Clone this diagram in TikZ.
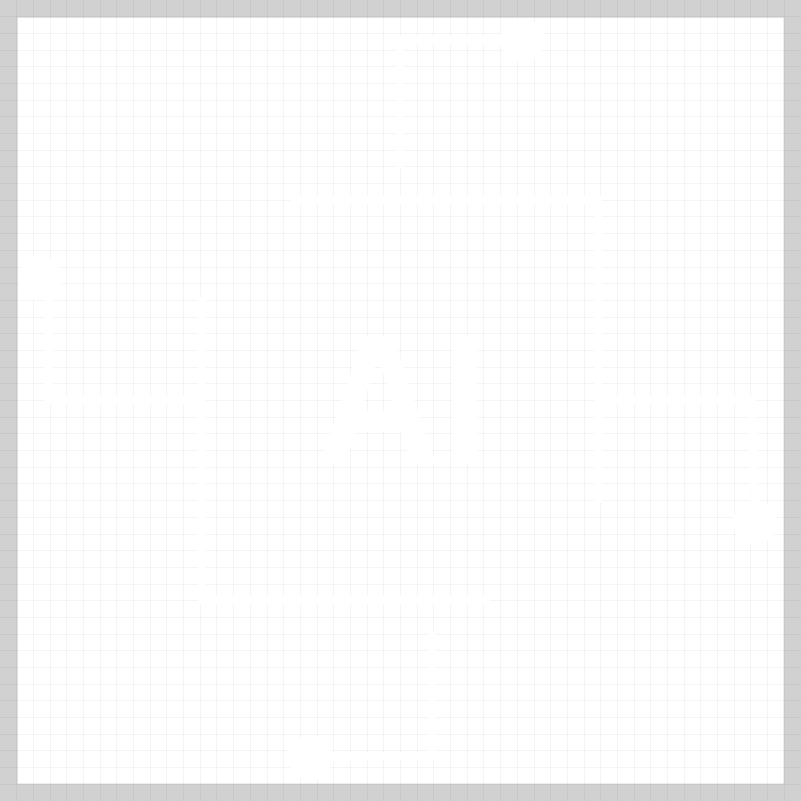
\documentclass[tikz,border=0pt]{standalone}
\usepackage{fontspec}
\setmainfont{Liberation Sans}
\definecolor{framegray}{HTML}{D1D1D1}
\tikzset{
  wire/.style={white, line width=8pt, line cap=butt, line join=miter},
  pad/.style={circle, fill=white, minimum size=44pt, inner sep=0pt},
  gridline/.style={black, opacity=0.04, line width=0.9pt}
}
\begin{document}
\begin{tikzpicture}[x=1pt, y=-1pt]
\useasboundingbox (0,0) rectangle (801,801);
\fill[white] (0,0) rectangle (801,801);
\fill[framegray, even odd rule] (0,0) rectangle (801,801) (17.5,17.5) rectangle (783.5,783.5);
\foreach \i in {1,...,47} {
  \draw[gridline] ({\i*16.6875},0) -- ({\i*16.6875},801);
  \draw[gridline] (0,{\i*16.6875}) -- (801,{\i*16.6875});
}
% chip body edges
\coordinate (tl) at (290,200);
\coordinate (tr) at (598,200);
\coordinate (rb) at (598,502);
\coordinate (lt) at (202,297);
\coordinate (bl) at (202,600);
\coordinate (br) at (490,600);
\draw[wire] (tl) -- (tr) -- (rb);
\draw[wire] (lt) -- (bl) -- (br);
% pads
\node[pad] (padT) at (522,40) {};
\node[pad] (padL) at (40,278) {};
\node[pad] (padR) at (755,522) {};
\node[pad] (padB) at (310,758) {};
% pins
\coordinate (pT1) at (400,40);
\coordinate (pT2) at (400,168);
\draw[wire] (padT.center) -- (pT1) -- (pT2);
\coordinate (pL0) at (49,290);
\coordinate (pL1) at (49,400);
\coordinate (pL2) at (200,400);
\draw[wire] (pL0) -- (pL1) -- (pL2);
\coordinate (pR0) at (602,400);
\coordinate (pR1) at (752,400);
\draw[wire] (pR0) -- (pR1) -- (padR.center);
\coordinate (pB0) at (432,632);
\coordinate (pB1) at (432,755);
\draw[wire] (pB0) -- (pB1) -- (padB.center);
% label
\node[white, font=\bfseries\fontsize{187}{187}\selectfont, inner sep=0pt, xscale=0.92] (ai) at (403,400) {AI};
\end{tikzpicture}
\end{document}
